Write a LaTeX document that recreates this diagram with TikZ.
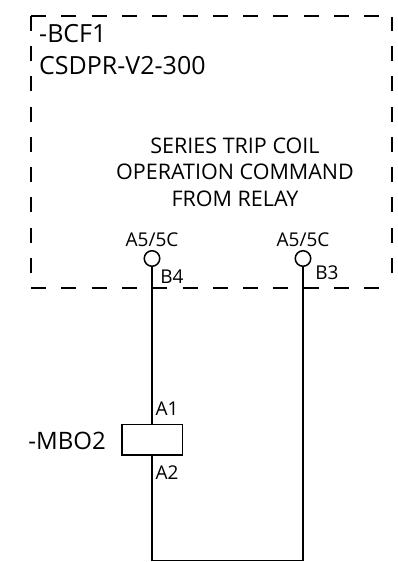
\documentclass[tikz,border=0pt]{standalone}
\usepackage{fontspec}
\setmainfont{Open Sans}
\tikzset{
  wire/.style={line width=1.7pt},
  panel/.style={line width=1.5pt,dash pattern=on 15pt off 15.3pt},
  terminal/.style={circle,draw,line width=1.5pt,fill=white,minimum size=15.5pt,inner sep=0pt},
  coilbox/.style={rectangle,draw,line width=1.5pt,fill=white,minimum width=60.5pt,minimum height=30.5pt,inner sep=0pt},
  bigtext/.style={font=\fontsize{25}{27}\selectfont,inner sep=0pt},
  coiltext/.style={font=\fontsize{24}{27}\selectfont,inner sep=0pt},
  midtext/.style={font=\fontsize{21.5}{26.5}\selectfont,inner sep=0pt,align=center},
  pintext/.style={font=\fontsize{19}{20}\selectfont,inner sep=0pt}
}
\begin{document}
\begin{tikzpicture}[x=1pt,y=-1pt]
    \useasboundingbox (0,0) rectangle (398,562);

    % The dashed outline of the relay
    \draw[panel] (31,273) -- (31,16);
    \draw[panel] (31,16) -- (379,16);
    \draw[panel] (392,273) -- (392,17);
    \draw[panel] (31,288) -- (379,288);

    % The texts of the relay
    \node[bigtext,anchor=west] (bcfname) at (39,34) {-BCF1};
    \node[bigtext,anchor=west] (bcftype) at (39,66) {CSDPR-V2-300};
    \node[midtext] (bcftext) at (235,172) {SERIES TRIP COIL\\OPERATION COMMAND\\FROM RELAY};

    % The terminals
    \node[terminal] (termleft) at (152,258.5) {};
    \node[terminal] (termright) at (303,258.5) {};
    \node[pintext] (pinleft) at (152,240) {A5/5C};
    \node[pintext] (pinright) at (303,240) {A5/5C};
    \node[pintext] (bfour) at (172,276.5) {B4};
    \node[pintext] (bthree) at (327,273) {B3};

    % The coil
    \node[coilbox] (coil) at (152,439.5) {};
    \node[coiltext,anchor=east] (coilname) at (106,441) {-MBO2};
    \node[pintext] (aone) at (167,408.5) {A1};
    \node[pintext] (atwo) at (167,473) {A2};

    % The wires
    \coordinate (cornerleft) at (152,560.5);
    \coordinate (cornerright) at (303,560.5);
    \draw[wire] (termleft) -- (coil);
    \draw[wire] (coil) -- (cornerleft) -- (cornerright) -- (termright);
  \end{tikzpicture}
\end{document}
